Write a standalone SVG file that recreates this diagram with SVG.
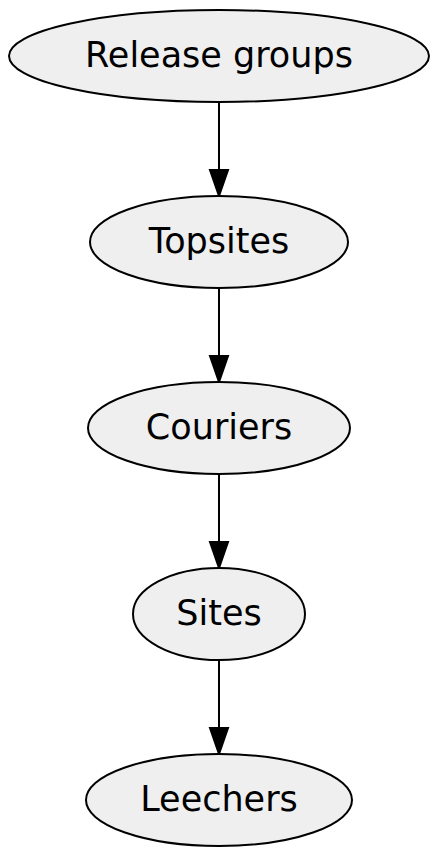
<svg xmlns="http://www.w3.org/2000/svg" width="440" height="857" viewBox="0 0 440 857">
<style>
.n ellipse{fill:#efefef;stroke:#000;stroke-width:2}
.n text{font-family:"DejaVu Sans",sans-serif;font-size:35px;text-anchor:middle;fill:#000}
.e line{stroke:#000;stroke-width:2}
.e polygon{fill:#000;stroke:#000;stroke-width:2}
</style>
<rect width="440" height="857" fill="#fff"/>
<g class="e" id="edges">
<line x1="219" y1="102" x2="219" y2="170"/><polygon points="210,170 228,170 219,196"/>
<line x1="219" y1="288" x2="219" y2="356"/><polygon points="210,356 228,356 219,382"/>
<line x1="219" y1="474" x2="219" y2="542"/><polygon points="210,542 228,542 219,568"/>
<line x1="219" y1="660" x2="219" y2="728"/><polygon points="210,728 228,728 219,754"/>
</g>
<g class="n" id="release"><ellipse cx="219" cy="56" rx="210" ry="46"/><text x="219" y="67">Release groups</text></g>
<g class="n" id="topsites"><ellipse cx="219" cy="242" rx="129" ry="46"/><text x="219" y="253">Topsites</text></g>
<g class="n" id="couriers"><ellipse cx="219" cy="428" rx="131" ry="46"/><text x="219" y="439">Couriers</text></g>
<g class="n" id="sites"><ellipse cx="219" cy="614" rx="86" ry="46"/><text x="219" y="625">Sites</text></g>
<g class="n" id="leechers"><ellipse cx="219" cy="800" rx="133" ry="46"/><text x="219" y="811">Leechers</text></g>
</svg>
